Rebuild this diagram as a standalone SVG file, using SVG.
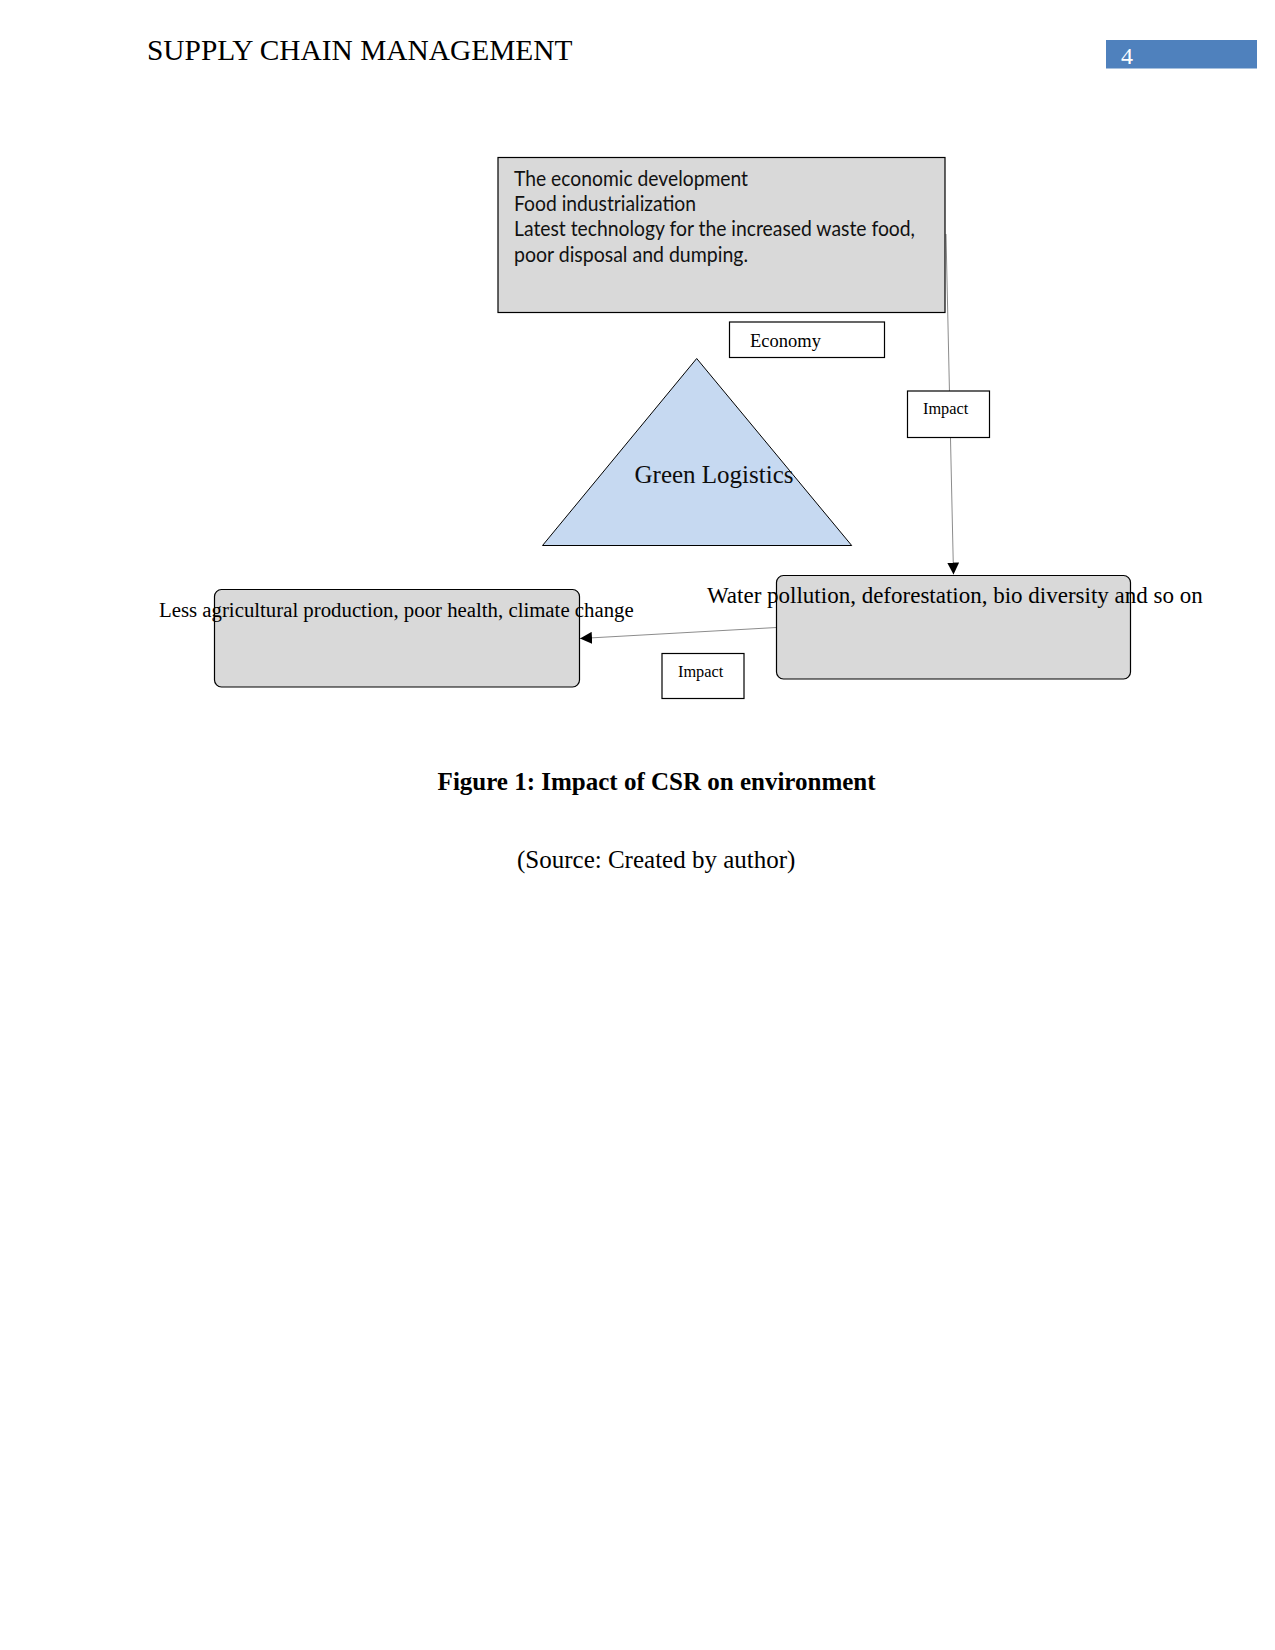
<svg xmlns="http://www.w3.org/2000/svg" width="1275" height="1650" viewBox="0 0 1275 1650">
<defs>
<style>
.serif{font-family:"Liberation Serif","Times New Roman",serif;fill:#000}
.sans{font-family:"Lato","Open Sans","Liberation Sans",sans-serif;fill:#111;font-size:21px}
.box{fill:#d9d9d9;stroke:#000;stroke-width:1.2}
.lbl{fill:#fff;stroke:#000;stroke-width:1.2}
.conn{stroke:#8c8c8c;stroke-width:1;fill:none}
</style>
<marker id="arrow" markerUnits="userSpaceOnUse" markerWidth="12" markerHeight="12" viewBox="0 0 12 12" refX="12" refY="6" orient="auto">
<path d="M0,0 L12,6 L0,12 Z" fill="#000"/>
</marker>
</defs>
<rect width="1275" height="1650" fill="#fff"/>
<g id="header">
<text class="serif" x="147" y="59.5" font-size="29.4">SUPPLY CHAIN MANAGEMENT</text>
<rect x="1106" y="40" width="151" height="28.5" fill="#4f81bd"/>
<text class="serif" x="1121" y="63.5" font-size="24" style="fill:#fff">4</text>
</g>
<g id="connectors">
<line class="conn" x1="946" y1="234" x2="953.5" y2="574.5" marker-end="url(#arrow)"/>
<line class="conn" x1="776.5" y1="627.5" x2="580" y2="638.5" marker-end="url(#arrow)"/>
</g>
<g id="node-economic">
<rect class="box" x="498" y="157.5" width="447" height="155"/>
<text class="sans" x="514" y="185.5" textLength="234" lengthAdjust="spacingAndGlyphs">The economic development</text>
<text class="sans" x="514" y="210.5" textLength="182" lengthAdjust="spacingAndGlyphs">Food industrialization</text>
<text class="sans" x="514" y="236" textLength="401" lengthAdjust="spacingAndGlyphs">Latest technology for the increased waste food,</text>
<text class="sans" x="514" y="261.5" textLength="234" lengthAdjust="spacingAndGlyphs">poor disposal and dumping.</text>
</g>
<g id="node-economy">
<rect class="lbl" x="729.5" y="322" width="155" height="35.5"/>
<text class="serif" x="750" y="346.5" font-size="18.5">Economy</text>
</g>
<g id="node-green-logistics">
<polygon points="696.7,358.5 542.5,545.5 851.7,545.5" fill="#c6d9f1" stroke="#000" stroke-width="1"/>
<text class="serif" x="634.5" y="482.5" font-size="25" style="fill:#0d0d0d">Green Logistics</text>
</g>
<g id="node-impact-1">
<rect class="lbl" x="907.5" y="391" width="82" height="46.5"/>
<text class="serif" x="923" y="413.5" font-size="16.3">Impact</text>
</g>
<g id="node-water">
<rect class="box" x="776.5" y="575.5" width="354" height="103.5" rx="7"/>
<text class="serif" x="707" y="602.5" font-size="23">Water pollution, deforestation, bio diversity and so on</text>
</g>
<g id="node-less">
<rect class="box" x="214.5" y="589.5" width="365" height="97.5" rx="7"/>
<text class="serif" x="159" y="616.5" font-size="20.8">Less agricultural production, poor health, climate change</text>
</g>
<g id="node-impact-2">
<rect class="lbl" x="662" y="653.5" width="82" height="45"/>
<text class="serif" x="678" y="676.5" font-size="16.3">Impact</text>
</g>
<g id="caption">
<text class="serif" x="656.6" y="789.5" font-size="25" font-weight="bold" text-anchor="middle">Figure 1: Impact of CSR on environment</text>
<text class="serif" x="656.2" y="867.5" font-size="25" text-anchor="middle">(Source: Created by author)</text>
</g>
</svg>
